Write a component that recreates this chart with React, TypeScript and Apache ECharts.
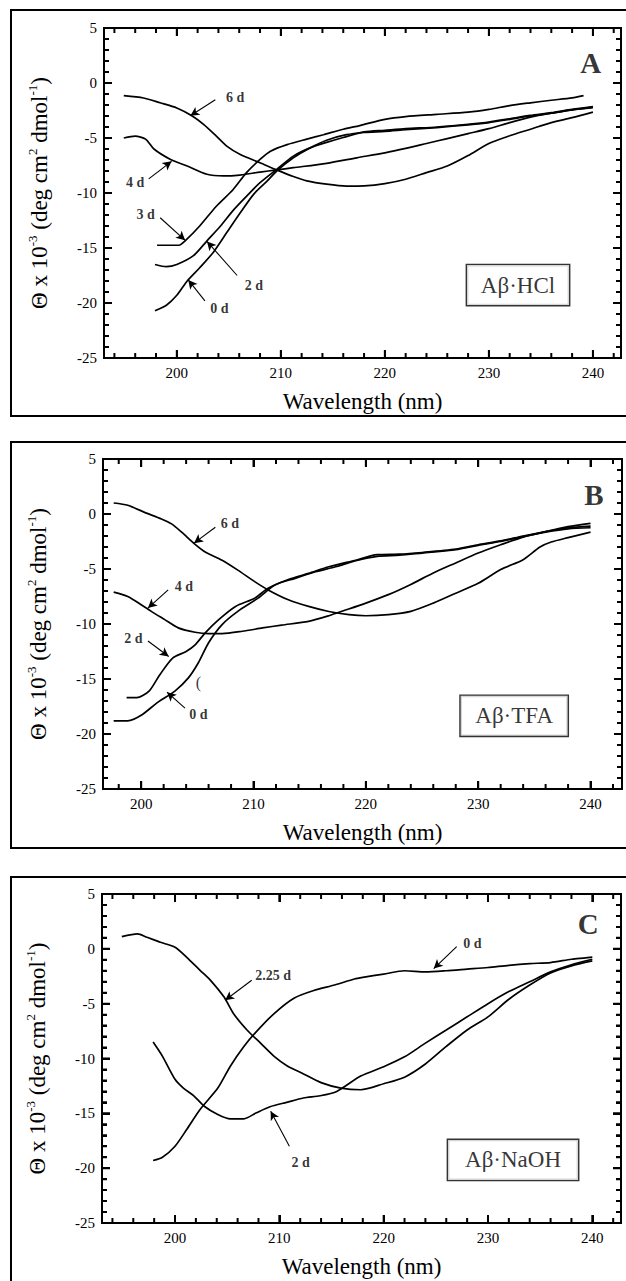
import React, { useEffect, useRef } from 'react';
import * as echarts from 'echarts';

const FONT = 'Liberation Serif, Times New Roman, Times, serif';

// ---- tick values ----
const majorX = [200, 210, 220, 230, 240];
const minorXWide = [194, 196, 198, 202, 204, 206, 208, 212, 214, 216, 218, 222, 224, 226, 228, 232, 234, 236, 238, 242];
const minorXNarrow = [198, 202, 204, 206, 208, 212, 214, 216, 218, 222, 224, 226, 228, 232, 234, 236, 238, 242];
const majorY = [-25, -20, -15, -10, -5, 0, 5];
const minorY = [-24, -23, -22, -21, -19, -18, -17, -16, -14, -13, -12, -11, -9, -8, -7, -6, -4, -3, -2, -1, 1, 2, 3, 4];

// ---- Panel A: Aβ·HCl ----
const hcl0d = [[197.9,-20.7],[199,-20.2],[200,-19.3],[201,-18.0],[202.2,-16.8],[203.5,-15.4],[204.8,-13.6],[206.1,-11.8],[207.4,-10.1],[208.7,-8.9],[209.6,-8.0],[211.2,-6.8],[212.8,-5.9],[214.4,-5.2],[216.3,-4.7],[218,-4.5],[220,-4.4],[222,-4.25],[225,-4.05],[228,-3.8],[230,-3.6],[232,-3.3],[234,-3.0],[236,-2.75],[238,-2.45],[240,-2.2]];
const hcl2d = [[197.9,-16.5],[199,-16.7],[200,-16.5],[201.6,-15.7],[202.9,-14.35],[204.2,-13.0],[205.4,-11.6],[206.7,-10.3],[208,-9.06],[209.6,-7.85],[211.2,-6.65],[212.8,-5.9],[214.4,-5.4],[216,-4.95],[218,-4.45],[220,-4.3],[222,-4.15],[225,-4.0],[228,-3.75],[230,-3.55],[232,-3.25],[234,-2.95],[236,-2.7],[238,-2.4],[240,-2.15]];
const hcl3d = [[198.1,-14.75],[200.2,-14.75],[200.8,-14.35],[202.2,-13.0],[203.8,-11.2],[205.4,-9.7],[206.7,-8.15],[208,-6.95],[209,-6.2],[210.6,-5.6],[212.5,-5.1],[214.1,-4.7],[216,-4.2],[217.6,-3.87],[220,-3.3],[222,-3.05],[225,-2.85],[228,-2.65],[230,-2.4],[232,-2.05],[234,-1.8],[236,-1.57],[238,-1.35],[239.1,-1.15]];
const hcl4d = [[194.9,-5.0],[196,-4.83],[197,-5.1],[197.8,-6.0],[199.4,-6.95],[201,-7.55],[202.9,-8.3],[204.5,-8.45],[205.8,-8.4],[208,-8.1],[209.6,-7.9],[211.2,-7.7],[214.4,-7.3],[217.3,-6.8],[220,-6.35],[222,-5.95],[224,-5.5],[226,-5.05],[228,-4.6],[230,-4.15],[232,-3.6],[234,-3.1],[236,-2.75],[238,-2.45],[240,-2.25]];
const hcl6d = [[194.9,-1.15],[196.8,-1.36],[198.4,-1.8],[200,-2.27],[201.4,-2.96],[202.6,-3.78],[203.8,-4.83],[204.8,-5.74],[206.1,-6.5],[208,-7.25],[209.6,-7.9],[211.2,-8.5],[212.5,-8.9],[214.4,-9.2],[216.3,-9.37],[218,-9.35],[220,-9.15],[222,-8.75],[224,-8.15],[226,-7.55],[228,-6.6],[230,-5.5],[232,-4.8],[234,-4.2],[236,-3.6],[238,-3.15],[240,-2.65]];
const hclLabels = [{ name: '6 d', value: [205.6, -1.28] }, { name: '4 d', value: [196.0, -9.08] }, { name: '3 d', value: [197.0, -11.95] }, { name: '2 d', value: [207.4, -18.45] }, { name: '0 d', value: [204.1, -20.5] }];
const hclArrows = [[[203.7,-1.53],[201.3,-2.98]], [[197.3,-8.72],[199.5,-7.12]], [[198.4,-12.25],[200.8,-14.3]], [[205.8,-17.5],[202.9,-14.4]], [[202.7,-19.8],[201.1,-17.9]]];

// ---- Panel B: Aβ·TFA ----
const tfa0d = [[197.55,-18.8],[198.8,-18.8],[200,-18.3],[201.5,-17.1],[203,-16.1],[204.2,-14.9],[205.1,-13.5],[206,-11.7],[207.2,-10.05],[208.6,-8.85],[210.4,-7.65],[211.9,-6.45],[213.7,-5.85],[215.5,-5.25],[217.3,-4.8],[219.1,-4.25],[221,-3.85],[223,-3.75],[225,-3.55],[228,-3.25],[230,-2.85],[232,-2.5],[234,-2.05],[236,-1.65],[238,-1.35],[240,-1.25]];
const tfa2d = [[198.7,-16.7],[199.6,-16.7],[200.7,-16.1],[201.6,-14.7],[202.8,-13.1],[204,-12.5],[204.8,-11.9],[205.7,-10.8],[206.9,-9.6],[208.4,-8.4],[210.1,-7.65],[211.3,-6.75],[213.1,-5.95],[214.9,-5.4],[216.7,-4.8],[219.1,-4.2],[221,-3.7],[223,-3.65],[225,-3.5],[228,-3.2],[230,-2.8],[232,-2.45],[234,-2.0],[236,-1.6],[238,-1.25],[240,-1.1]];
const tfa4d = [[197.55,-7.1],[198.8,-7.5],[200,-8.25],[200.9,-8.85],[202.1,-9.6],[203.3,-10.35],[204.8,-10.75],[206,-10.87],[207.2,-10.87],[209,-10.66],[210.8,-10.36],[212.5,-10.1],[214.9,-9.76],[216.7,-9.25],[218,-8.8],[220,-8.1],[222,-7.33],[224,-6.4],[226,-5.36],[228,-4.45],[230,-3.55],[232,-2.8],[234,-2.1],[236,-1.6],[238,-1.15],[240,-0.85]];
const tfa6d = [[197.55,1.0],[198.8,0.8],[200.3,0.15],[201.8,-0.45],[202.7,-0.9],[203.6,-1.65],[204.8,-2.76],[205.7,-3.45],[207.2,-4.2],[208.6,-5.1],[210.1,-6.15],[211.3,-6.9],[213.1,-7.8],[214.9,-8.4],[216.7,-8.86],[218.5,-9.15],[220,-9.25],[222,-9.15],[224,-8.85],[226,-8.1],[228,-7.2],[230,-6.3],[232,-5.05],[234,-4.15],[235.5,-3.0],[236.5,-2.55],[238,-2.15],[240,-1.65]];
const tfaLabels = [{ name: '6 d', value: [207.9, -0.9] }, { name: '4 d', value: [203.8, -6.6] }, { name: '2 d', value: [199.3, -11.3] }, { name: '0 d', value: [205.1, -18.25] }];
const tfaArrows = [[[206.6,-1.2],[204.7,-2.65]], [[202.4,-6.9],[200.6,-8.55]], [[200.6,-11.55],[202.45,-12.95]], [[203.9,-17.65],[202.3,-16.2]]];
const tfaMark = [{ name: '(', value: [205.1, -15.3] }];

// ---- Panel C: Aβ·NaOH ----
const naoh0d = [[197.9,-19.3],[198.8,-19.0],[200,-18.0],[201.1,-16.5],[202.4,-14.65],[204.1,-12.7],[205.3,-10.7],[206.6,-8.9],[207.8,-7.55],[209.5,-5.9],[211.4,-4.5],[213.3,-3.8],[215.3,-3.3],[217.2,-2.75],[218,-2.6],[220,-2.3],[222,-2.0],[224,-2.1],[226,-2.0],[228,-1.85],[230,-1.7],[232,-1.5],[234,-1.35],[236,-1.25],[238,-0.95],[240,-0.75]];
const naoh2d = [[197.9,-8.5],[198.8,-9.8],[200,-11.9],[200.8,-12.7],[201.8,-13.4],[202.8,-14.35],[204.1,-15.1],[205.3,-15.5],[206.6,-15.5],[207.8,-14.95],[209.1,-14.4],[210.7,-14.0],[212.3,-13.6],[213.9,-13.4],[215.5,-13.0],[217.8,-11.6],[220,-10.75],[222,-9.85],[224,-8.6],[226,-7.4],[228,-6.2],[230,-5.0],[232,-3.9],[234,-3.0],[236,-2.1],[238,-1.45],[240,-0.95]];
const naoh225d = [[194.9,1.12],[196.4,1.36],[197.3,1.06],[198.6,0.6],[200,0.15],[201.1,-0.75],[202.4,-1.96],[203.4,-2.87],[204.7,-4.4],[205.6,-5.9],[206.9,-7.4],[208.2,-8.6],[209.5,-9.8],[210.8,-10.7],[212.1,-11.3],[214,-12.2],[215.9,-12.7],[217.8,-12.85],[220,-12.3],[222,-11.7],[224,-10.5],[226,-8.9],[228,-7.4],[230,-6.2],[232,-4.6],[234,-3.3],[236,-2.2],[238,-1.55],[240,-1.1]];
const naohLabels = [{ name: '2.25 d', value: [209.4, -2.42] }, { name: '2 d', value: [212.05, -19.5] }, { name: '0 d', value: [228.5, 0.5] }];
const naohArrows = [[[207.35,-2.87],[204.8,-4.69]], [[210.96,-18.0],[209.17,-14.8]], [[227.0,0.2],[224.8,-1.8]]];

// ---- panel letters and sample boxes ----
const panelLetters = ['A', 'B', 'C'];
const letterPos = [[239.8, 1.85], [240.3, 1.7], [239.6, 2.25]];
const sampleNames = ['Aβ·HCl', 'Aβ·TFA', 'Aβ·NaOH'];
const samplePos = [[232.8, -18.37], [233.2, -18.35], [232.4, -19.25]];
const sampleBoxWidth = [102, 107, 130];

const panels = [
  { curves: [hcl0d, hcl2d, hcl3d, hcl4d, hcl6d], labels: hclLabels, arrows: hclArrows, extra: [] as any[],
    grid: { left: 104, top: 28, width: 517, height: 330 }, xMin: 193, xMax: 242.7, minors: minorXWide },
  { curves: [tfa0d, tfa2d, tfa4d, tfa6d], labels: tfaLabels, arrows: tfaArrows, extra: tfaMark,
    grid: { left: 103, top: 459, width: 519, height: 330 }, xMin: 196.6, xMax: 242.8, minors: minorXNarrow },
  { curves: [naoh0d, naoh2d, naoh225d], labels: naohLabels, arrows: naohArrows, extra: [] as any[],
    grid: { left: 102, top: 894, width: 519, height: 329 }, xMin: 193, xMax: 242.75, minors: minorXWide },
];

const BLACK = '#000';
const Y_MIN = -25;
const Y_MAX = 5;
const MAJOR_LEN = 8;
const MINOR_LEN = 5;
const TICK_W = 2;

function buildOption() {
  const grid: any[] = [];
  const xAxis: any[] = [];
  const yAxis: any[] = [];
  const series: any[] = [];

  panels.forEach((p, i) => {
    grid.push({ ...p.grid, outerBoundsMode: 'none', containLabel: false, show: false });
    const line = { show: true, onZero: false, lineStyle: { color: BLACK, width: 1.6 } };
    const xTick = { show: true, inside: true, length: MAJOR_LEN, customValues: majorX, lineStyle: { color: BLACK, width: TICK_W } };
    xAxis.push({
      type: 'value', gridIndex: i, min: p.xMin, max: p.xMax, position: 'bottom',
      splitLine: { show: false }, axisLine: line, axisTick: xTick,
      axisLabel: { show: true, customValues: majorX, margin: 7, fontFamily: FONT, fontSize: 15, color: BLACK },
      name: 'Wavelength (nm)', nameLocation: 'middle', nameGap: 32, nameMoveOverlap: false,
      nameTextStyle: { fontFamily: FONT, fontSize: 23, color: BLACK },
    });
    xAxis.push({
      type: 'value', gridIndex: i, min: p.xMin, max: p.xMax, position: 'top',
      splitLine: { show: false }, axisLine: line, axisTick: xTick, axisLabel: { show: false },
    });
    const yb = {
      type: 'value', gridIndex: i, min: Y_MIN, max: Y_MAX, interval: 5,
      splitLine: { show: false }, axisLine: line,
      axisTick: { show: true, inside: true, length: MAJOR_LEN, lineStyle: { color: BLACK, width: TICK_W } },
      minorTick: { show: true, splitNumber: 5, length: MINOR_LEN, lineStyle: { color: BLACK, width: TICK_W } },
    };
    yAxis.push({
      ...yb, position: 'left',
      axisLabel: { show: true, margin: 7, fontFamily: FONT, fontSize: 15, color: BLACK },
      name: '{m|Θ x 10}{s|-3}{m| (deg cm}{s|2}{m| dmol}{s|-1}{m|)}',
      nameLocation: 'middle', nameRotate: 90, nameGap: 51, nameMoveOverlap: false,
      nameTextStyle: {
        fontFamily: FONT, fontSize: 23, color: BLACK,
        rich: {
          m: { fontFamily: FONT, fontSize: 23, lineHeight: 27, color: BLACK },
          s: { fontFamily: FONT, fontSize: 13, lineHeight: 11, verticalAlign: 'top', color: BLACK },
        },
      },
    });
    yAxis.push({ ...yb, position: 'right', axisLabel: { show: false } });

    const xi = i * 2;
    const yi = i * 2;
    p.curves.forEach((c, k) => {
      const s: any = {
        type: 'line', xAxisIndex: xi, yAxisIndex: yi, data: c, showSymbol: false, symbol: 'none',
        smooth: 0.25, silent: true, lineStyle: { color: BLACK, width: 1.7 }, z: 3,
      };
      if (k === 0) {
        s.markLine = {
          silent: true, symbol: ['none', 'arrow'], symbolSize: [7, 9],
          lineStyle: { color: BLACK, width: 1.1, type: 'solid' },
          label: { show: false }, emphasis: { disabled: true },
          data: p.arrows.map((a) => [{ coord: a[0] }, { coord: a[1] }]),
        };
      }
      series.push(s);
    });
    series.push({
      type: 'scatter', xAxisIndex: xi, yAxisIndex: yi, data: p.labels, symbolSize: 1, silent: true,
      itemStyle: { color: 'transparent' },
      label: { show: true, position: 'inside', formatter: '{b}', fontFamily: FONT, fontWeight: 'bold', fontSize: 14, color: BLACK },
    });
    if (p.extra.length) {
      series.push({
        type: 'scatter', xAxisIndex: xi, yAxisIndex: yi, data: p.extra, symbolSize: 1, silent: true,
        itemStyle: { color: 'transparent' },
        label: { show: true, position: 'inside', formatter: '{b}', fontFamily: FONT, fontSize: 16, color: BLACK },
      });
    }
    series.push({
      type: 'scatter', xAxisIndex: xi, yAxisIndex: yi, data: [{ name: panelLetters[i], value: letterPos[i] }],
      symbolSize: 1, silent: true, itemStyle: { color: 'transparent' },
      label: { show: true, position: 'inside', formatter: '{b}', fontFamily: FONT, fontWeight: 'bold', fontSize: 29, color: BLACK },
    });
    series.push({
      type: 'scatter', xAxisIndex: xi, yAxisIndex: yi, data: [{ name: sampleNames[i], value: samplePos[i] }],
      symbolSize: 1, silent: true, itemStyle: { color: 'transparent' },
      label: {
        show: true, position: 'inside', formatter: '{b}', fontFamily: FONT, fontSize: 23, color: BLACK,
        width: sampleBoxWidth[i], align: 'center', lineHeight: 24, padding: [8, 0, 8, 0],
        borderColor: BLACK, borderWidth: 1.4, backgroundColor: '#fff',
      },
    });
  });

  return {
    animation: false,
    backgroundColor: '#fff',
    grid, xAxis, yAxis, series,
  };
}

const frame = (y: number, h: number) => ({
  type: 'rect', silent: true, z: 100,
  shape: { x: 11, y, width: 640, height: h },
  style: { fill: 'none', stroke: BLACK, lineWidth: 2 },
});

// Each side's ticks as one comb-shaped polyline along the axis line,
// placed through the axes' own scales (convertToPixel).
function buildTicks(chart: any) {
  const els: any[] = [frame(10, 406), frame(442, 406), frame(877, 420)];
  panels.forEach((p, i) => {
    const g = p.grid;
    const finder = { gridIndex: i };
    const px = (v: number) => {
      const r = chart.convertToPixel(finder, [v, 0]);
      return r && isFinite(r[0]) ? r[0] : g.left + ((v - p.xMin) / (p.xMax - p.xMin)) * g.width;
    };
    const py = (v: number) => {
      const r = chart.convertToPixel(finder, [220, v]);
      return r && isFinite(r[1]) ? r[1] : g.top + ((Y_MAX - v) / (Y_MAX - Y_MIN)) * g.height;
    };
    const yBottom = py(Y_MIN);
    const yTop = py(Y_MAX);
    const xLeft = px(p.xMin);
    const xRight = px(p.xMax);
    const xt = [...majorX.map((v) => [v, MAJOR_LEN]), ...p.minors.map((v) => [v, MINOR_LEN])].sort((a, b) => a[0] - b[0]);
    const yt = [...majorY.map((v) => [v, MAJOR_LEN]), ...minorY.map((v) => [v, MINOR_LEN])].sort((a, b) => a[0] - b[0]);
    const comb = (pts: number[][]) => ({
      type: 'polyline', silent: true, z: 100,
      shape: { points: pts },
      style: { stroke: BLACK, lineWidth: TICK_W, fill: 'none' },
    });
    const bottom: number[][] = [[xLeft, yBottom]];
    const top: number[][] = [[xLeft, yTop]];
    xt.forEach(([v, len]) => {
      const x = px(v);
      bottom.push([x, yBottom], [x, yBottom - len], [x, yBottom]);
      top.push([x, yTop], [x, yTop + len], [x, yTop]);
    });
    bottom.push([xRight, yBottom]);
    top.push([xRight, yTop]);
    const left: number[][] = [[xLeft, yBottom]];
    const right: number[][] = [[xRight, yBottom]];
    yt.forEach(([v, len]) => {
      const y = py(v);
      left.push([xLeft, y], [xLeft + len, y], [xLeft, y]);
      right.push([xRight, y], [xRight - len, y], [xRight, y]);
    });
    left.push([xLeft, yTop]);
    right.push([xRight, yTop]);
    els.push(comb(bottom), comb(top), comb(left), comb(right));
  });
  return els;
}

export default function App() {
  const ref = useRef<HTMLDivElement>(null);
  useEffect(() => {
    if (!ref.current) return;
    const chart = echarts.init(ref.current, null, { renderer: 'svg' });
    chart.setOption(buildOption() as any);
    chart.setOption({ graphic: buildTicks(chart) } as any);
    return () => chart.dispose();
  }, []);
  return (
    <div
      ref={ref}
      style={{ position: 'absolute', left: 0, top: 0, width: 626, height: 1281, background: '#fff' }}
    />
  );
}
